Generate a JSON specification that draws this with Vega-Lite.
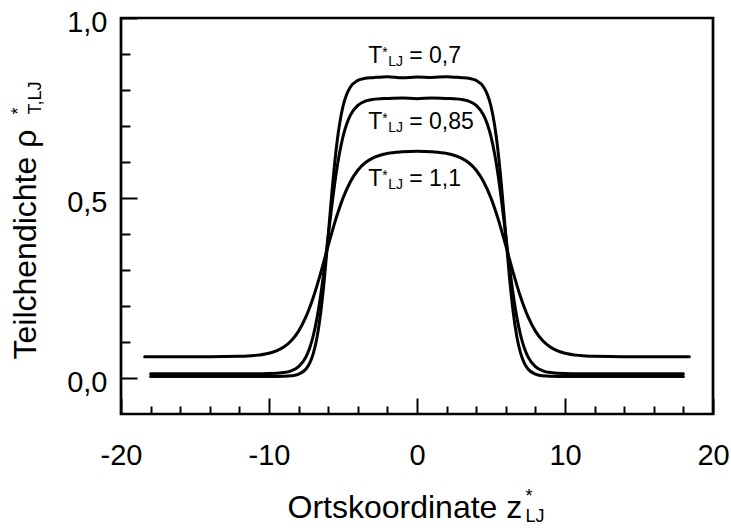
{
  "$schema": "https://vega.github.io/schema/vega-lite/v6.json",
  "width": 592,
  "height": 396,
  "autosize": {"type": "none"},
  "padding": {"left": 121, "top": 18, "right": 18, "bottom": 117},
  "background": "white",
  "config": {
    "font": "Liberation Sans",
    "view": {"stroke": "black", "strokeWidth": 2.7},
    "axis": {"grid": false}
  },
  "datasets": {
    "profiles": [
      {"T": "0.7", "z": -18, "rho": 0.004}, {"T": "0.7", "z": -14, "rho": 0.004}, {"T": "0.7", "z": -11, "rho": 0.004}, {"T": "0.7", "z": -10, "rho": 0.004},
      {"T": "0.7", "z": -9, "rho": 0.0046}, {"T": "0.7", "z": -8.5, "rho": 0.0061}, {"T": "0.7", "z": -8, "rho": 0.0107}, {"T": "0.7", "z": -7.5, "rho": 0.0251},
      {"T": "0.7", "z": -7.25, "rho": 0.0413}, {"T": "0.7", "z": -7, "rho": 0.0689}, {"T": "0.7", "z": -6.75, "rho": 0.1138}, {"T": "0.7", "z": -6.5, "rho": 0.1829},
      {"T": "0.7", "z": -6.25, "rho": 0.2786}, {"T": "0.7", "z": -6, "rho": 0.3951}, {"T": "0.7", "z": -5.75, "rho": 0.5154}, {"T": "0.7", "z": -5.5, "rho": 0.6209},
      {"T": "0.7", "z": -5.25, "rho": 0.7008}, {"T": "0.7", "z": -5, "rho": 0.7548}, {"T": "0.7", "z": -4.75, "rho": 0.7883}, {"T": "0.7", "z": -4.5, "rho": 0.8085},
      {"T": "0.7", "z": -4, "rho": 0.8266}, {"T": "0.7", "z": -3.5, "rho": 0.8324}, {"T": "0.7", "z": -3, "rho": 0.8342}, {"T": "0.7", "z": -2, "rho": 0.837},
      {"T": "0.7", "z": -1, "rho": 0.834}, {"T": "0.7", "z": 0, "rho": 0.836}, {"T": "0.7", "z": 1, "rho": 0.835}, {"T": "0.7", "z": 2, "rho": 0.837},
      {"T": "0.7", "z": 3, "rho": 0.8342}, {"T": "0.7", "z": 3.5, "rho": 0.8324}, {"T": "0.7", "z": 4, "rho": 0.8266}, {"T": "0.7", "z": 4.5, "rho": 0.8085},
      {"T": "0.7", "z": 4.75, "rho": 0.7883}, {"T": "0.7", "z": 5, "rho": 0.7548}, {"T": "0.7", "z": 5.25, "rho": 0.7008}, {"T": "0.7", "z": 5.5, "rho": 0.6209},
      {"T": "0.7", "z": 5.75, "rho": 0.5154}, {"T": "0.7", "z": 6, "rho": 0.3951}, {"T": "0.7", "z": 6.25, "rho": 0.2786}, {"T": "0.7", "z": 6.5, "rho": 0.1829},
      {"T": "0.7", "z": 6.75, "rho": 0.1138}, {"T": "0.7", "z": 7, "rho": 0.0689}, {"T": "0.7", "z": 7.25, "rho": 0.0413}, {"T": "0.7", "z": 7.5, "rho": 0.0251},
      {"T": "0.7", "z": 8, "rho": 0.0107}, {"T": "0.7", "z": 8.5, "rho": 0.0061}, {"T": "0.7", "z": 9, "rho": 0.0046}, {"T": "0.7", "z": 10, "rho": 0.004},
      {"T": "0.7", "z": 11, "rho": 0.004}, {"T": "0.7", "z": 14, "rho": 0.004}, {"T": "0.7", "z": 18, "rho": 0.004},

      {"T": "0.85", "z": -18, "rho": 0.012}, {"T": "0.85", "z": -14, "rho": 0.012}, {"T": "0.85", "z": -11, "rho": 0.012}, {"T": "0.85", "z": -10, "rho": 0.0125},
      {"T": "0.85", "z": -9, "rho": 0.0153}, {"T": "0.85", "z": -8.5, "rho": 0.02}, {"T": "0.85", "z": -8, "rho": 0.0317}, {"T": "0.85", "z": -7.5, "rho": 0.0588},
      {"T": "0.85", "z": -7.25, "rho": 0.0835}, {"T": "0.85", "z": -7, "rho": 0.1188}, {"T": "0.85", "z": -6.75, "rho": 0.1677}, {"T": "0.85", "z": -6.5, "rho": 0.2317},
      {"T": "0.85", "z": -6.25, "rho": 0.3091}, {"T": "0.85", "z": -6, "rho": 0.3945}, {"T": "0.85", "z": -5.75, "rho": 0.4799}, {"T": "0.85", "z": -5.5, "rho": 0.5573},
      {"T": "0.85", "z": -5.25, "rho": 0.6213}, {"T": "0.85", "z": -5, "rho": 0.6702}, {"T": "0.85", "z": -4.75, "rho": 0.7054}, {"T": "0.85", "z": -4.5, "rho": 0.7303},
      {"T": "0.85", "z": -4, "rho": 0.7573}, {"T": "0.85", "z": -3.5, "rho": 0.769}, {"T": "0.85", "z": -3, "rho": 0.7737}, {"T": "0.85", "z": -2, "rho": 0.7765},
      {"T": "0.85", "z": -1, "rho": 0.778}, {"T": "0.85", "z": 0, "rho": 0.776}, {"T": "0.85", "z": 1, "rho": 0.778}, {"T": "0.85", "z": 2, "rho": 0.7765},
      {"T": "0.85", "z": 3, "rho": 0.7737}, {"T": "0.85", "z": 3.5, "rho": 0.769}, {"T": "0.85", "z": 4, "rho": 0.7573}, {"T": "0.85", "z": 4.5, "rho": 0.7303},
      {"T": "0.85", "z": 4.75, "rho": 0.7054}, {"T": "0.85", "z": 5, "rho": 0.6702}, {"T": "0.85", "z": 5.25, "rho": 0.6213}, {"T": "0.85", "z": 5.5, "rho": 0.5573},
      {"T": "0.85", "z": 5.75, "rho": 0.4799}, {"T": "0.85", "z": 6, "rho": 0.3945}, {"T": "0.85", "z": 6.25, "rho": 0.3091}, {"T": "0.85", "z": 6.5, "rho": 0.2317},
      {"T": "0.85", "z": 6.75, "rho": 0.1677}, {"T": "0.85", "z": 7, "rho": 0.1188}, {"T": "0.85", "z": 7.25, "rho": 0.0835}, {"T": "0.85", "z": 7.5, "rho": 0.0588},
      {"T": "0.85", "z": 8, "rho": 0.0317}, {"T": "0.85", "z": 8.5, "rho": 0.02}, {"T": "0.85", "z": 9, "rho": 0.0153}, {"T": "0.85", "z": 10, "rho": 0.0125},
      {"T": "0.85", "z": 11, "rho": 0.012}, {"T": "0.85", "z": 14, "rho": 0.012}, {"T": "0.85", "z": 18, "rho": 0.012},

      {"T": "1.1", "z": -18.4, "rho": 0.059}, {"T": "1.1", "z": -16, "rho": 0.059}, {"T": "1.1", "z": -14, "rho": 0.0591}, {"T": "1.1", "z": -12, "rho": 0.0602},
      {"T": "1.1", "z": -11, "rho": 0.0625}, {"T": "1.1", "z": -10, "rho": 0.0688}, {"T": "1.1", "z": -9.5, "rho": 0.0754}, {"T": "1.1", "z": -9, "rho": 0.0861},
      {"T": "1.1", "z": -8.5, "rho": 0.1034}, {"T": "1.1", "z": -8, "rho": 0.1303}, {"T": "1.1", "z": -7.5, "rho": 0.1703}, {"T": "1.1", "z": -7, "rho": 0.225},
      {"T": "1.1", "z": -6.5, "rho": 0.2929}, {"T": "1.1", "z": -6, "rho": 0.3675}, {"T": "1.1", "z": -5.5, "rho": 0.4392}, {"T": "1.1", "z": -5, "rho": 0.4997},
      {"T": "1.1", "z": -4.5, "rho": 0.5453}, {"T": "1.1", "z": -4, "rho": 0.5771}, {"T": "1.1", "z": -3.5, "rho": 0.5979}, {"T": "1.1", "z": -3, "rho": 0.6109},
      {"T": "1.1", "z": -2, "rho": 0.6239}, {"T": "1.1", "z": -1, "rho": 0.6285}, {"T": "1.1", "z": 0, "rho": 0.6301}, {"T": "1.1", "z": 1, "rho": 0.6285},
      {"T": "1.1", "z": 2, "rho": 0.6239}, {"T": "1.1", "z": 3, "rho": 0.6109}, {"T": "1.1", "z": 3.5, "rho": 0.5979}, {"T": "1.1", "z": 4, "rho": 0.5771},
      {"T": "1.1", "z": 4.5, "rho": 0.5453}, {"T": "1.1", "z": 5, "rho": 0.4997}, {"T": "1.1", "z": 5.5, "rho": 0.4392}, {"T": "1.1", "z": 6, "rho": 0.3675},
      {"T": "1.1", "z": 6.5, "rho": 0.2929}, {"T": "1.1", "z": 7, "rho": 0.225}, {"T": "1.1", "z": 7.5, "rho": 0.1703}, {"T": "1.1", "z": 8, "rho": 0.1303},
      {"T": "1.1", "z": 8.5, "rho": 0.1034}, {"T": "1.1", "z": 9, "rho": 0.0861}, {"T": "1.1", "z": 9.5, "rho": 0.0754}, {"T": "1.1", "z": 10, "rho": 0.0688},
      {"T": "1.1", "z": 11, "rho": 0.0625}, {"T": "1.1", "z": 12, "rho": 0.0602}, {"T": "1.1", "z": 14, "rho": 0.0591}, {"T": "1.1", "z": 16, "rho": 0.059},
      {"T": "1.1", "z": 18.4, "rho": 0.059}
    ],
    "labels": [
      {"z": -3.3, "rho": 0.874, "val": "= 0,7"},
      {"z": -3.3, "rho": 0.693, "val": "= 0,85"},
      {"z": -3.3, "rho": 0.534, "val": "= 1,1"}
    ]
  },
  "layer": [
    {
      "data": {"name": "profiles"},
      "mark": {"type": "line", "interpolate": "monotone", "strokeWidth": 3, "color": "black", "strokeCap": "round", "strokeJoin": "round"},
      "encoding": {
        "x": {
          "field": "z", "type": "quantitative",
          "scale": {"domain": [-20, 20], "nice": false, "zero": false},
          "axis": {
            "orient": "bottom",
            "values": [-20, -18, -16, -14, -12, -10, -8, -6, -4, -2, 0, 2, 4, 6, 8, 10, 12, 14, 16, 18, 20],
            "domain": false,
            "ticks": true,
            "tickSize": -16,
            "tickColor": "black",
            "tickWidth": 2,
            "tickDash": {"condition": {"test": "datum.value % 10 === 0", "value": [16, 0]}, "value": [8, 100]},
            "labelExpr": "datum.value % 10 === 0 ? toString(datum.value) : ''",
            "labelFontSize": 29,
            "labelColor": "black",
            "labelPadding": 43,
            "labelFlush": false,
            "labelOverlap": false,
            "title": "Ortskoordinate z",
            "titleFontSize": 32,
            "titleFontWeight": "normal",
            "titleColor": "black",
            "titleAlign": "left",
            "titleBaseline": "alphabetic",
            "titleX": 166,
            "titleY": 103
          }
        },
        "y": {
          "field": "rho", "type": "quantitative",
          "scale": {"domain": [-0.1, 1.0], "nice": false, "zero": false},
          "axis": {
            "orient": "left",
            "values": [0, 0.1, 0.2, 0.3, 0.4, 0.5, 0.6, 0.7, 0.8, 0.9, 1.0],
            "domain": false,
            "ticks": true,
            "tickSize": -16,
            "tickColor": "black",
            "tickWidth": 2,
            "tickDash": {"condition": {"test": "datum.value === 0 || datum.value === 0.5 || datum.value === 1", "value": [16, 0]}, "value": [9, 100]},
            "labelExpr": "datum.value === 0 ? '0,0' : (datum.value === 0.5 ? '0,5' : (datum.value === 1 ? '1,0' : ''))",
            "labelFontSize": 29,
            "labelColor": "black",
            "labelPadding": 30,
            "labelBaseline": "middle",
            "labelOffset": 4,
            "labelFlush": false,
            "labelOverlap": false,
            "title": "Teilchendichte ρ",
            "titleFontSize": 32,
            "titleFontWeight": "normal",
            "titleColor": "black",
            "titleAngle": 270,
            "titleAlign": "left",
            "titleBaseline": "alphabetic",
            "titleX": -86,
            "titleY": 341
          }
        },
        "detail": {"field": "T", "type": "nominal"}
      }
    },
    {
      "data": {"name": "labels"},
      "encoding": {
        "x": {
          "field": "z", "type": "quantitative",
          "axis": {
            "orient": "top", "domain": false, "ticks": false, "labels": false, "grid": false,
            "title": ["*", "LJ"],
            "titleFontSize": 18, "titleFontWeight": "normal", "titleColor": "black",
            "titleAlign": "left", "titleBaseline": "alphabetic", "titleAngle": 0,
            "titleX": 404, "titleY": 483, "titleLineHeight": 20
          }
        },
        "y": {
          "field": "rho", "type": "quantitative",
          "axis": {
            "orient": "right", "domain": false, "ticks": false, "labels": false, "grid": false,
            "title": ["*", "T,LJ"],
            "titleFontSize": 18, "titleFontWeight": "normal", "titleColor": "black",
            "titleAlign": "left", "titleBaseline": "alphabetic", "titleAngle": 270,
            "titleX": -690, "titleY": 96, "titleLineHeight": 17
          }
        }
      },
      "layer": [
        {"mark": {"type": "text", "text": "T", "align": "left", "baseline": "alphabetic", "fontSize": 23, "color": "black"}},
        {"mark": {"type": "text", "text": "*", "align": "left", "baseline": "alphabetic", "fontSize": 14, "dx": 14, "dy": -6, "color": "black"}},
        {"mark": {"type": "text", "text": "LJ", "align": "left", "baseline": "alphabetic", "fontSize": 14, "dx": 20, "dy": 3, "color": "black"}},
        {"mark": {"type": "text", "align": "left", "baseline": "alphabetic", "fontSize": 23, "dx": 41, "color": "black"}, "encoding": {"text": {"field": "val"}}}
      ]
    }
  ],
  "resolve": {"axis": {"x": "independent", "y": "independent"}}
}
